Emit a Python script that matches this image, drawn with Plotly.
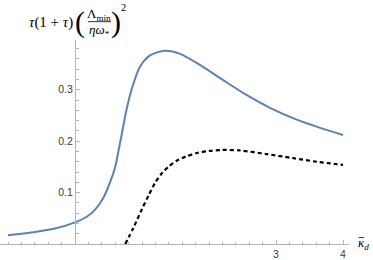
import plotly.graph_objects as go

# ---- data ----
kappa_blue = [-1.0, -0.62, -0.3, 0.0, 0.175, 0.3, 0.42, 0.52, 0.6, 0.65, 0.70, 0.77, 0.85,
              0.97, 1.12, 1.34, 1.57, 1.87, 2.21, 2.56, 2.91, 3.31, 3.66, 4.0]
value_blue = [0.017, 0.023, 0.030, 0.042, 0.053, 0.067, 0.089, 0.119, 0.150, 0.182, 0.215, 0.262, 0.303,
              0.345, 0.367, 0.376, 0.370, 0.348, 0.319, 0.29, 0.265, 0.242, 0.226, 0.212]

kappa_dash = [0.75, 0.87, 1.0, 1.1, 1.2, 1.3, 1.4, 1.52, 1.65, 1.82, 2.0, 2.2, 2.46, 2.86, 3.26, 3.61, 4.0]
value_dash = [0.0, 0.031, 0.068, 0.095, 0.120, 0.138, 0.151, 0.162, 0.170, 0.177, 0.181, 0.183, 0.182,
              0.175, 0.167, 0.160, 0.154]

x_tickvals = [3, 4]
x_ticktext = ["3", "4"]
y_tickvals = [0.1, 0.2, 0.3]
y_ticktext = ["0.1", "0.2", "0.3"]

# ---- layout geometry (pixels) ----
W, H = 373, 260
L, R = 0, 349          # plot area left/right pixel
T, B = 40, 246         # plot area top/bottom pixel
X0_PX = 75             # pixel of x = 0
PX_PER_X = 67.0
PX_PER_Y = 519.0

x_range = [(L - X0_PX) / PX_PER_X, (R - X0_PX) / PX_PER_X]
y_range = [0, (B - T) / PX_PER_Y]

def px(xp):
    return (xp - L) / (R - L)

def py(yp):
    return (B - yp) / (B - T)

axis_col = "#b5b5b5"
tick_font = dict(family="Liberation Sans, Arial, sans-serif", size=10.5, color="#3c3c3c")
serif = "Liberation Serif, Times New Roman, serif"

fig = go.Figure()
fig.add_trace(go.Scatter(x=kappa_blue, y=value_blue, mode="lines",
                         line=dict(color="#5E81B5", width=2, shape="spline", smoothing=0.8),
                         hoverinfo="skip", showlegend=False))
fig.add_trace(go.Scatter(x=kappa_dash, y=value_dash, mode="lines",
                         line=dict(color="black", width=2.2, dash="4px,3px", shape="spline", smoothing=0.8),
                         hoverinfo="skip", showlegend=False))

fig.update_layout(
    width=W, height=H,
    margin=dict(l=L, r=W - R, t=T, b=H - B, pad=0),
    plot_bgcolor="white", paper_bgcolor="white",
    showlegend=False,
    xaxis=dict(range=x_range, showgrid=False, zeroline=False,
               showline=True, linecolor=axis_col, linewidth=1,
               tickmode="array", tickvals=x_tickvals, ticktext=x_ticktext,
               ticks="inside", ticklen=4, tickcolor=axis_col, tickwidth=1,
               tickfont=tick_font,
               minor=dict(tickmode="linear", tick0=0, dtick=0.2, ticks="inside",
                          ticklen=2.5, tickcolor=axis_col, tickwidth=1, showgrid=False)),
    yaxis=dict(range=y_range, showgrid=False, zeroline=False,
               anchor="free", position=px(X0_PX),
               showline=True, linecolor=axis_col, linewidth=1,
               tickmode="array", tickvals=y_tickvals, ticktext=y_ticktext,
               ticks="inside", ticklen=4, tickcolor=axis_col, tickwidth=1,
               tickfont=tick_font,
               minor=dict(tickmode="linear", tick0=0, dtick=0.02, ticks="inside",
                          ticklen=2.5, tickcolor=axis_col, tickwidth=1, showgrid=False)),
)

ann = []
# axis label: kappa with bar, subscript d
ann.append(dict(x=px(356), y=py(245), xref="paper", yref="paper", xanchor="left", yanchor="middle",
                text="<i>κ</i><sub><i>d</i></sub>", showarrow=False,
                font=dict(family=serif, size=13, color="black")))
# title pieces
ann.append(dict(x=px(51), y=py(22), xref="paper", yref="paper", xanchor="center", yanchor="middle",
                text="<i>τ</i>(1 + <i>τ</i>)", showarrow=False,
                font=dict(family=serif, size=15, color="black")))
ann.append(dict(x=px(80), y=py(22), xref="paper", yref="paper", xanchor="center", yanchor="middle",
                text="(", showarrow=False, font=dict(family=serif, size=30, color="black")))
ann.append(dict(x=px(116), y=py(22), xref="paper", yref="paper", xanchor="center", yanchor="middle",
                text=")", showarrow=False, font=dict(family=serif, size=30, color="black")))
ann.append(dict(x=px(99), y=py(14), xref="paper", yref="paper", xanchor="center", yanchor="middle",
                text="Λ<sub>min</sub>", showarrow=False, font=dict(family=serif, size=13, color="black")))
ann.append(dict(x=px(99), y=py(30), xref="paper", yref="paper", xanchor="center", yanchor="middle",
                text="<i>ηω</i><sub>*</sub>", showarrow=False, font=dict(family=serif, size=13, color="black")))
ann.append(dict(x=px(123), y=py(7), xref="paper", yref="paper", xanchor="center", yanchor="middle",
                text="2", showarrow=False, font=dict(family=serif, size=10.5, color="black")))
fig.update_layout(annotations=ann)

# fraction bar
fig.add_shape(type="line", xref="paper", yref="paper",
              x0=px(88), x1=px(111), y0=py(21.5), y1=py(21.5),
              line=dict(color="black", width=0.8))
# bar over kappa
fig.add_shape(type="line", xref="paper", yref="paper",
              x0=px(358.5), x1=px(364), y0=py(239.5), y1=py(239.5),
              line=dict(color="black", width=0.8))

fig.write_html("out.html", config={"displayModeBar": False},
               post_script="document.body.style.margin='0px';")
